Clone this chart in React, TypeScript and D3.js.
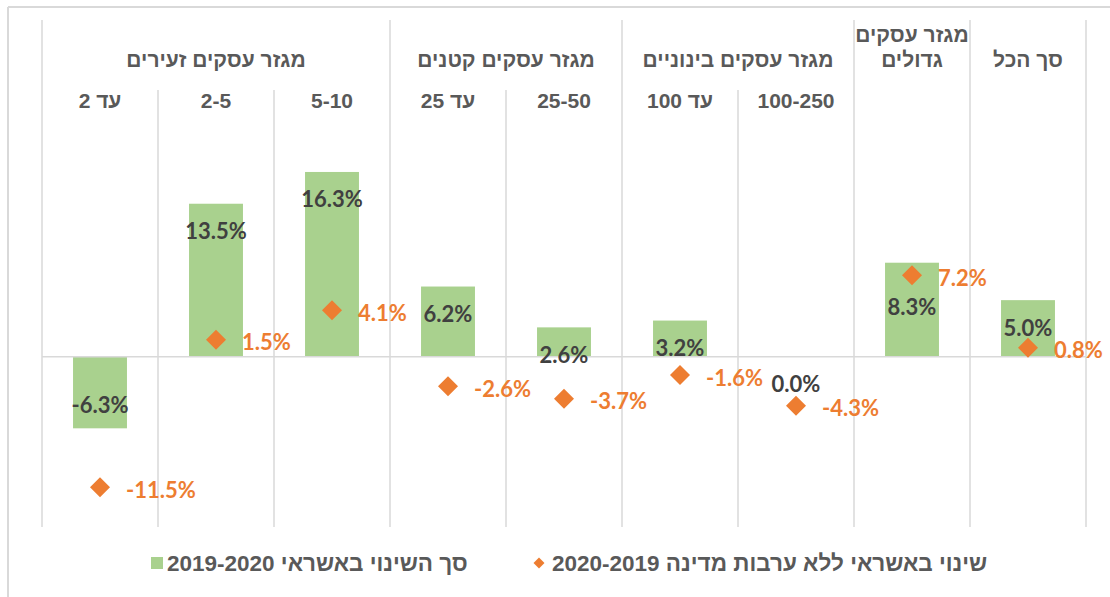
import * as d3 from 'd3';

// categories in right-to-left order (first = rightmost)
const subLabels = ['', '', '100-250', 'עד 100', '25-50', 'עד 25', '5-10', '2-5', 'עד 2'];
const groupLabels = [['סך הכל'], ['מגזר עסקים', 'גדולים'], ['מגזר עסקים בינוניים'], ['מגזר עסקים קטנים'], ['מגזר עסקים זעירים']];
const groupSizes = [1, 1, 2, 2, 3];
const totalChange = [5.0, 8.3, 0.0, 3.2, 2.6, 6.2, 16.3, 13.5, -6.3];
const noGuarantee = [0.8, 7.2, -4.3, -1.6, -3.7, -2.6, 4.1, 1.5, -11.5];
const legendLabels = ['סך השינוי באשראי 2019-2020', 'שינוי באשראי ללא ערבות מדינה 2020-2019'];

const W = 1110;
const H = 597;
const green = '#A9D18E';
const orange = '#ED7D31';
const grid = '#D9D9D9';
const hebFont = '"Liberation Sans", Arial, sans-serif';
const numFont = 'Lato, "Open Sans", sans-serif';

export default function App() {
  const x = d3.scaleBand<number>()
    .domain(d3.range(totalChange.length))
    .range([1086, 42]);
  const y = d3.scaleLinear().domain([-15, 20]).range([527, 130]);
  const bw = x.bandwidth() * 0.465;
  const diamond = d3.symbol(d3.symbolSquare, 200)();
  const fmt = (v: number) => v.toFixed(1) + '%';

  // group boundaries (in category index)
  const starts = groupSizes.map((_, i) => d3.sum(groupSizes.slice(0, i)));
  const gridLines: { xv: number; top: number }[] = [];
  starts.forEach((s, gi) => {
    const left = x(s + groupSizes[gi] - 1)!;
    gridLines.push({ xv: left, top: 20 });
    for (let k = 1; k < groupSizes[gi]; k++) {
      gridLines.push({ xv: x(s + k - 1)!, top: 90 });
    }
  });
  gridLines.push({ xv: x(0)! + x.bandwidth(), top: 20 });

  return (
    <svg width={W} height={H} style={{ position: 'absolute', left: 0, top: 0, background: '#fff' }}>
      <line x1={8} x2={W} y1={7} y2={7} stroke={grid} strokeWidth={2} />
      <line x1={8} x2={8} y1={7} y2={H} stroke={grid} strokeWidth={2} />

      {gridLines.map((g, i) => (
        <line key={i} x1={g.xv} x2={g.xv} y1={g.top} y2={527} stroke={grid} strokeWidth={1.5} />
      ))}

      {totalChange.map((v, i) => (
        <rect key={i} x={x(i)! + (x.bandwidth() - bw) / 2} width={bw}
          y={Math.min(y(v), y(0))} height={Math.abs(y(v) - y(0))} fill={green} />
      ))}

      <line x1={42} x2={1086} y1={y(0)} y2={y(0)} stroke={grid} strokeWidth={1.5} />

      {/* category labels */}
      {groupLabels.map((lines, gi) => {
        const s = starts[gi];
        const cx = (x(s + groupSizes[gi] - 1)! + x(s)! + x.bandwidth()) / 2;
        return (
          <text key={gi} x={cx} textAnchor="middle" direction="rtl" fontFamily={hebFont}
            fontWeight="bold" fontSize={21} fill="#595959">
            {lines.map((l, li) => (
              <tspan key={li} x={cx} y={(lines.length === 2 ? 42 : 67) + li * 25}>{l}</tspan>
            ))}
          </text>
        );
      })}
      {subLabels.map((l, i) => l && (
        <text key={i} x={x(i)! + x.bandwidth() / 2} y={108} textAnchor="middle" direction="rtl"
          fontFamily={hebFont} fontWeight="bold" fontSize={21} fill="#595959">{l}</text>
      ))}

      {noGuarantee.map((v, i) => (
        <path key={i} d={diamond!} fill={orange}
          transform={`translate(${x(i)! + x.bandwidth() / 2},${y(v)}) rotate(45)`} />
      ))}

      {/* bar value labels */}
      {totalChange.map((v, i) => {
        let ly = v > 0 ? y(v) + 27 : v < 0 ? y(v) - 24 : y(0) + 27;
        if (v > 0 && Math.abs(ly - y(noGuarantee[i])) < 20) ly = y(noGuarantee[i]) + 31;
        return (
          <text key={i} x={x(i)! + x.bandwidth() / 2} y={ly} textAnchor="middle" dominantBaseline="central"
            fontFamily={numFont} fontWeight="bold" fontSize={22} fill="#404040">{fmt(v)}</text>
        );
      })}
      {noGuarantee.map((v, i) => (
        <text key={i} x={x(i)! + x.bandwidth() / 2 + 26} y={y(v) + 2} dominantBaseline="central"
          fontFamily={numFont} fontWeight="bold" fontSize={22} fill={orange}>{fmt(v)}</text>
      ))}

      {/* legend */}
      <rect x={151} y={557} width={12} height={12} fill={green} />
      <text x={167} y={571} textAnchor="end" direction="rtl" fontFamily={hebFont}
        fontWeight="bold" fontSize={22.5} fill="#595959">{legendLabels[0]}</text>
      <path d={d3.symbol(d3.symbolSquare, 60)()!} fill={orange} transform="translate(539,563) rotate(45)" />
      <text x={552} y={571} textAnchor="end" direction="rtl" fontFamily={hebFont}
        fontWeight="bold" fontSize={22.5} fill="#595959">{legendLabels[1]}</text>
    </svg>
  );
}
